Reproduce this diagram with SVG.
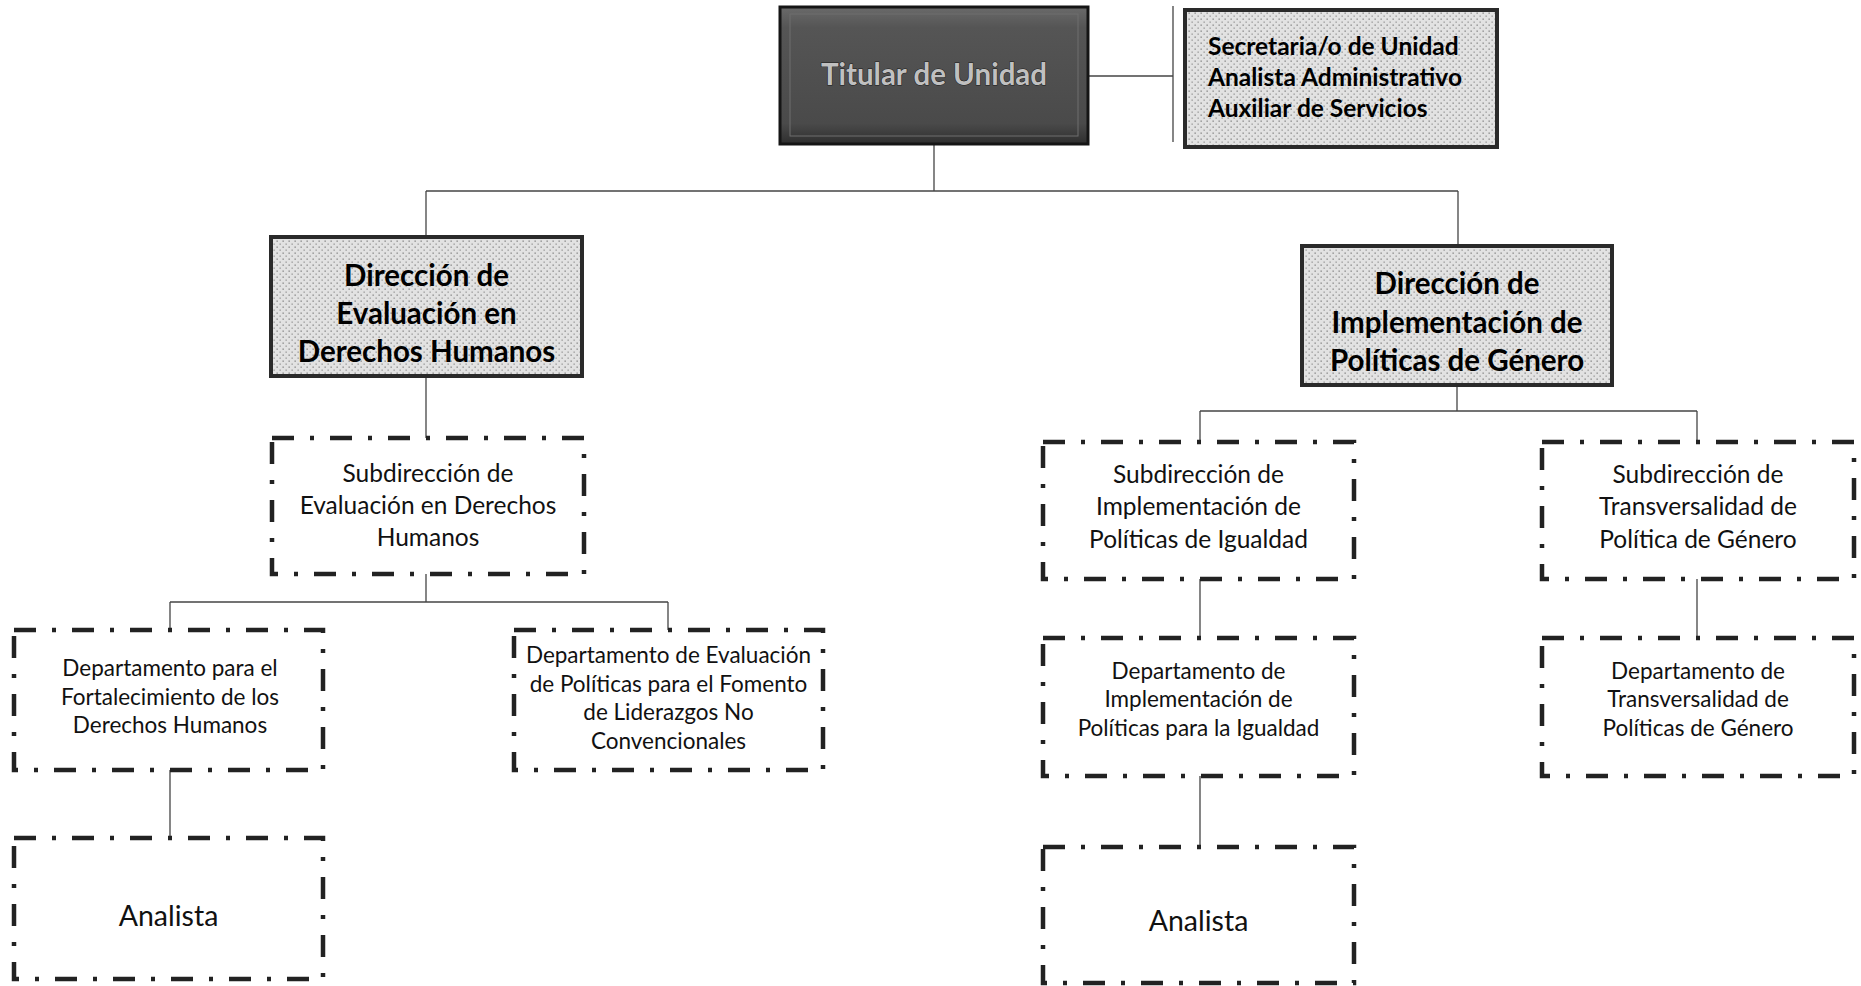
<svg xmlns="http://www.w3.org/2000/svg" width="1861" height="986" viewBox="0 0 1861 986">
<defs>
<pattern id="stip" width="6" height="6" patternUnits="userSpaceOnUse">
<rect width="6" height="6" fill="#e2e2e2"/>
<rect x="0.5" y="0.5" width="1.3" height="1.3" fill="#808080"/>
<rect x="3.5" y="3.5" width="1.3" height="1.3" fill="#949494"/>
</pattern>
<linearGradient id="dark" x1="0" y1="0" x2="0" y2="1">
<stop offset="0" stop-color="#6a6a6a"/>
<stop offset="0.15" stop-color="#555555"/>
<stop offset="0.85" stop-color="#4a4a4a"/>
<stop offset="1" stop-color="#2e2e2e"/>
</linearGradient>
</defs>
<style>
.conn{fill:none;stroke:#444;stroke-width:1.3}
.solid{fill:url(#stip);stroke:#2a2a2a;stroke-width:4}
.dash{fill:#fff;stroke:#222;stroke-width:4.5;stroke-dasharray:22 16 4 16}
.tb{font-family:Lato,"Liberation Sans",sans-serif;font-weight:bold;fill:#000;text-anchor:middle}
.tr{font-family:Lato,"Liberation Sans",sans-serif;fill:#111;text-anchor:middle}
.sub{font-size:24.5px}
.dep{font-size:22.5px}
.dir{font-size:29.5px}
.an{font-size:28.5px}
</style>
<rect width="1861" height="986" fill="#fff"/>
<g id="connectors">
<path class="conn" d="M1089 76H1173"/>
<path class="conn" d="M1173 6V142"/>
<path class="conn" d="M934 145V191"/>
<path class="conn" d="M426 191H1458"/>
<path class="conn" d="M426 191V236"/>
<path class="conn" d="M1458 191V245"/>
<path class="conn" d="M426 376V438"/>
<path class="conn" d="M426 574V602"/>
<path class="conn" d="M170 602H668"/>
<path class="conn" d="M170 602V630"/>
<path class="conn" d="M668 602V630"/>
<path class="conn" d="M170 770V838"/>
<path class="conn" d="M1457 385V411"/>
<path class="conn" d="M1200 411H1697"/>
<path class="conn" d="M1200 411V442"/>
<path class="conn" d="M1697 411V442"/>
<path class="conn" d="M1200 579V638"/>
<path class="conn" d="M1200 776V847"/>
<path class="conn" d="M1697 579V638"/>
</g>
<g id="titular">
<rect x="780" y="7" width="308" height="137" fill="url(#dark)" stroke="#151515" stroke-width="3"/>
<rect x="790" y="14" width="288" height="122" fill="none" stroke="#6e6e6e" stroke-width="1"/>
<text x="934" y="85" class="tb" style="font-size:29.5px;fill:#c0c0c0;stroke:#1a1a1a;stroke-width:1;paint-order:stroke">Titular de Unidad</text>
</g>
<g id="secretaria">
<rect x="1185" y="10" width="312" height="137" class="solid"/>
<text x="1208" style="font-family:Lato,'Liberation Sans',sans-serif;font-weight:bold;font-size:24.5px;fill:#000">
<tspan x="1208" y="55">Secretaria/o de Unidad</tspan>
<tspan x="1208" y="86">Analista Administrativo</tspan>
<tspan x="1208" y="117">Auxiliar de Servicios</tspan>
</text>
</g>
<g id="dir-evaluacion">
<rect x="271" y="237" width="311" height="139" class="solid"/>
<text class="tb dir"><tspan x="426.5" y="286">Dirección de</tspan><tspan x="426.5" y="324">Evaluación en</tspan><tspan x="426.5" y="362">Derechos Humanos</tspan></text>
</g>
<g id="dir-implementacion">
<rect x="1302" y="246" width="310" height="139" class="solid"/>
<text class="tb dir"><tspan x="1457" y="294">Dirección de</tspan><tspan x="1457" y="333">Implementación de</tspan><tspan x="1457" y="371">Políticas de Género</tspan></text>
</g>
<g id="sub-evaluacion">
<rect x="272" y="438" width="312" height="136" class="dash"/>
<text class="tr sub"><tspan x="428" y="482">Subdirección de</tspan><tspan x="428" y="514">Evaluación en Derechos</tspan><tspan x="428" y="546">Humanos</tspan></text>
</g>
<g id="dep-fortalecimiento">
<rect x="14" y="630" width="309" height="140" class="dash"/>
<text class="tr dep"><tspan x="170" y="676">Departamento para el</tspan><tspan x="170" y="705">Fortalecimiento de los</tspan><tspan x="170" y="733">Derechos Humanos</tspan></text>
</g>
<g id="dep-evaluacion-politicas">
<rect x="514" y="630" width="309" height="140" class="dash"/>
<text class="tr dep"><tspan x="668.5" y="663">Departamento de Evaluación</tspan><tspan x="668.5" y="692">de Políticas para el Fomento</tspan><tspan x="668.5" y="720">de Liderazgos No</tspan><tspan x="668.5" y="749">Convencionales</tspan></text>
</g>
<g id="analista-1">
<rect x="14" y="838" width="309" height="141" class="dash"/>
<text class="tr an" x="168.5" y="926">Analista</text>
</g>
<g id="sub-implementacion">
<rect x="1043" y="442" width="311" height="137" class="dash"/>
<text class="tr sub"><tspan x="1198.5" y="483">Subdirección de</tspan><tspan x="1198.5" y="515">Implementación de</tspan><tspan x="1198.5" y="548">Políticas de Igualdad</tspan></text>
</g>
<g id="sub-transversalidad">
<rect x="1542" y="442" width="312" height="137" class="dash"/>
<text class="tr sub"><tspan x="1698" y="483">Subdirección de</tspan><tspan x="1698" y="515">Transversalidad de</tspan><tspan x="1698" y="548">Política de Género</tspan></text>
</g>
<g id="dep-implementacion">
<rect x="1043" y="638" width="311" height="138" class="dash"/>
<text class="tr dep"><tspan x="1198.5" y="679">Departamento  de</tspan><tspan x="1198.5" y="707">Implementación de</tspan><tspan x="1198.5" y="736">Políticas para la Igualdad</tspan></text>
</g>
<g id="dep-transversalidad">
<rect x="1542" y="638" width="312" height="138" class="dash"/>
<text class="tr dep"><tspan x="1698" y="679">Departamento de</tspan><tspan x="1698" y="707">Transversalidad de</tspan><tspan x="1698" y="736">Políticas de Género</tspan></text>
</g>
<g id="analista-2">
<rect x="1043" y="847" width="311" height="136" class="dash"/>
<text class="tr an" x="1198.5" y="931">Analista</text>
</g>
</svg>
